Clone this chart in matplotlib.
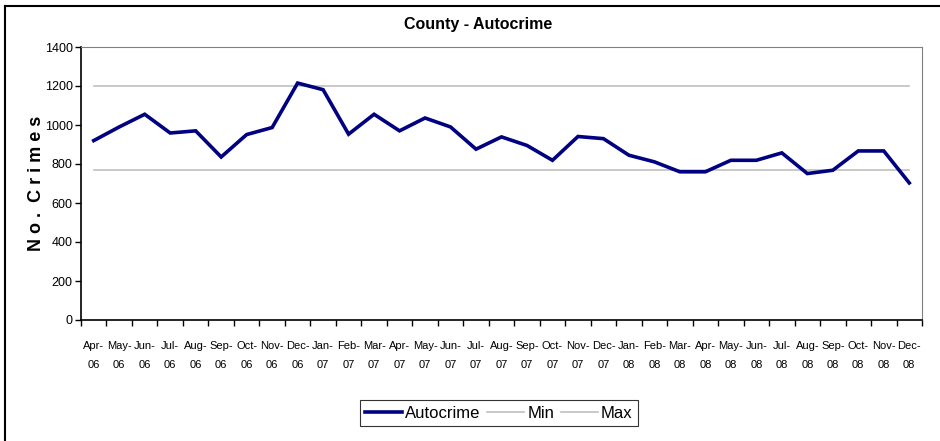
import matplotlib.pyplot as plt
from matplotlib.lines import Line2D
import numpy as np

plt.rcParams["font.family"] = ["Liberation Sans", "DejaVu Sans"]

months = ["Apr", "May", "Jun", "Jul", "Aug", "Sep", "Oct", "Nov", "Dec",
          "Jan", "Feb", "Mar", "Apr", "May", "Jun", "Jul", "Aug", "Sep",
          "Oct", "Nov", "Dec", "Jan", "Feb", "Mar", "Apr", "May", "Jun",
          "Jul", "Aug", "Sep", "Oct", "Nov", "Dec"]
years = ["06"] * 9 + ["07"] * 12 + ["08"] * 12
autocrime = [920, 990, 1055, 959, 970, 836, 951, 987, 1215,
             1181, 953, 1055, 970, 1036, 990, 876, 939, 895, 819, 941, 930,
             845, 811, 760, 760, 819, 819, 857, 751, 768, 867, 867, 703]
min_value = 770
max_value = 1200

labels = [f"{m}-\n{y}" for m, y in zip(months, years)]
n = len(autocrime)
x = np.arange(n)

fig = plt.figure(figsize=(9.4, 4.41), dpi=100)
ax = fig.add_axes([81 / 940, 1 - 320 / 441, 841 / 940, 273 / 441])

navy = "#000080"
grey = "#c0c0c0"
ax.plot(x, autocrime, color=navy, linewidth=2.6, solid_joinstyle="miter", zorder=3)
ax.plot(x, [min_value] * n, color=grey, linewidth=1.2, zorder=2)
ax.plot(x, [max_value] * n, color=grey, linewidth=1.2, zorder=2)

ax.set_xlim(-0.5, n - 0.5)
ax.set_ylim(0, 1400)
ax.set_yticks(np.arange(0, 1401, 200))
ax.set_yticklabels([str(v) for v in range(0, 1401, 200)], fontsize=9)
ax.set_xticks(np.arange(n + 1) - 0.5, minor=False)
ax.set_xticklabels([])
ax.set_xticks(x, minor=True)
ax.set_xticklabels(labels, minor=True, fontsize=8, linespacing=2.1)
ax.tick_params(axis="x", which="minor", length=0, pad=15)
ax.tick_params(axis="x", which="major", direction="out", length=4, width=1)
ax.tick_params(axis="y", direction="out", length=4, width=1, pad=2)

for side in ["top", "right"]:
    ax.spines[side].set_color("#808080")
for side in ["left", "bottom"]:
    ax.spines[side].set_color("black")
    ax.spines[side].set_linewidth(1.2)

ax.set_ylabel("N o .  C r i m e s", fontsize=13, fontweight="bold")
ax.yaxis.set_label_coords(-36 / 841, 0.5)

fig.text(478 / 940, 1 - 24 / 441, "County - Autocrime", ha="center", va="center",
         fontsize=11.5, fontweight="bold")

handles = [Line2D([], [], color=navy, linewidth=2.6),
           Line2D([], [], color=grey, linewidth=1.2),
           Line2D([], [], color=grey, linewidth=1.2)]
leg = fig.legend(handles, ["Autocrime", "Min", "Max"], loc="center",
                 bbox_to_anchor=(499 / 940, 1 - 413 / 441), ncol=3, fontsize=12,
                 frameon=True, fancybox=False, edgecolor="black",
                 handlelength=2.2, handletextpad=0.2, columnspacing=0.4,
                 borderpad=0.35)
leg.get_frame().set_linewidth(0.8)

fig.add_artist(Line2D([5 / 940, 5 / 940], [0, 1 - 6 / 441], color="black",
                      linewidth=1.5, transform=fig.transFigure))
fig.add_artist(Line2D([5 / 940, 1], [1 - 6 / 441, 1 - 6 / 441], color="black",
                      linewidth=1.5, transform=fig.transFigure))

fig.savefig("out.png", dpi=100)
